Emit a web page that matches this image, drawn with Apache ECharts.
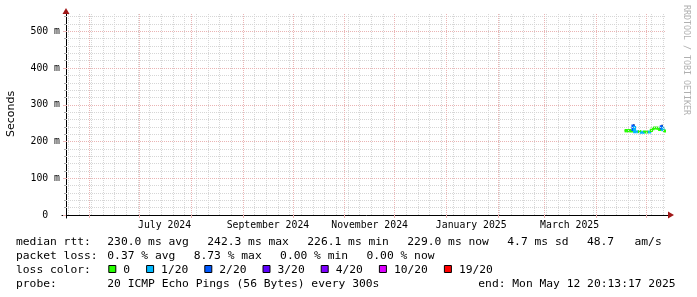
<!DOCTYPE html>
<html>
<head>
<meta charset="utf-8">
<script src="https://cdn.jsdelivr.net/npm/echarts@6/dist/echarts.min.js"></script>
<style>
html,body{margin:0;padding:0;background:#fff;}
#c{width:697px;height:297px;}
</style>
</head>
<body>
<div id="c"></div>
<script>
// ---------------- data ----------------
const endStamp = '2025-05-12T20:13:17Z';
const rangeDays = 360;

// x-axis labels (month label, month it belongs to)
const monthLabelText = ['July 2024', 'September 2024', 'November 2024', 'January 2025', 'March 2025'];
const monthLabelMonth = ['2024-07', '2024-09', '2024-11', '2025-01', '2025-03'];
// major (monthly) vertical grid lines
const monthStarts = ['2024-06', '2024-07', '2024-08', '2024-09', '2024-10', '2024-11', '2024-12',
                     '2025-01', '2025-02', '2025-03', '2025-04', '2025-05'];
// y ticks
const yMax = 550;
const yStep = 100;
const yMinorStep = 20;

// daily samples
const days = ['2025-04-18', '2025-04-19', '2025-04-20', '2025-04-21', '2025-04-22', '2025-04-23',
              '2025-04-24', '2025-04-25', '2025-04-26', '2025-04-27', '2025-04-28', '2025-04-29',
              '2025-04-30', '2025-05-01', '2025-05-02', '2025-05-03', '2025-05-04', '2025-05-05',
              '2025-05-06', '2025-05-07', '2025-05-08', '2025-05-09', '2025-05-10', '2025-05-11',
              '2025-05-12'];
const medianMs = [229, 230, 229, 230, 229, 242, 227, 227, 227, 227, 225, 225,
                  226, 226, 226, 226, 231, 235, 237, 237, 236, 233, 240, 232, 229];
const lossOf20 = [0, 0, 0, 0, 0, 2, 1, 1, 0, 0, 1, 1,
                  0, 0, 1, 1, 0, 0, 0, 0, 0, 0, 2, 1, 0];
const smokeLowMs = [228, 229, 228, 229, 228, 227, 226, 226, 226, 226, 224, 224,
                    225, 225, 225, 225, 230, 234, 236, 236, 235, 232, 230, 231, 228];
const smokeHighMs = [230, 231, 230, 231, 230, 247, 228, 228, 228, 228, 226, 226,
                     227, 227, 227, 227, 232, 236, 238, 238, 237, 234, 246, 233, 230];

// legend
const medianStats = ['230.0 ms avg', '242.3 ms max', '226.1 ms min', '229.0 ms now', '4.7 ms sd', '48.7   am/s'];
const lossStats = ['0.37 % avg', '8.73 % max', '0.00 % min', '0.00 % now'];
const lossLevels = ['0', '1/20', '2/20', '3/20', '4/20', '10/20', '19/20'];
const lossThresholds = [0, 1, 2, 3, 4, 10, 19];
const lossColors = ['#26ff00', '#00b8ff', '#0059ff', '#5e00ff', '#7e00ff', '#dd00ff', '#ff0000'];
const probeText = '20 ICMP Echo Pings (56 Bytes) every 300s';
const endText = 'end: Mon May 12 20:13:17 2025';
const yTitle = 'Seconds';
const watermark = 'RRDTOOL / TOBI OETIKER';

// ---------------- build ----------------
const DAY = 86400000;
const END = Date.parse(endStamp);
const START = END - rangeDays * DAY;
const MONO = '"DejaVu Sans Mono", monospace';
const SANS = '"DejaVu Sans", sans-serif';

function monthTime(s) { return Date.parse(s + '-01T00:00:00Z'); }
const labelTimes = monthLabelMonth.map(m => monthTime(m) + 15 * DAY);
const monthTimes = monthStarts.map(monthTime);

// weekly (Sunday) minor grid
const weekTimes = [];
{
  let t = Date.UTC(2024, 4, 19); // first Sunday in range
  while (t < END) { weekTimes.push(t); t += 7 * DAY; }
}
const minorY = [];
for (let v = yMinorStep; v < yMax; v += yMinorStep) if (v % yStep !== 0) minorY.push(v);
const majorY = [];
for (let v = yStep; v < yMax; v += yStep) majorY.push(v);

function lossColor(l) {
  let c = lossColors[0];
  for (let i = 0; i < lossThresholds.length; i++) if (l >= lossThresholds[i]) c = lossColors[i];
  return c;
}

const dayTimes = days.map(d => Date.parse(d + 'T00:00:00Z'));
const medianData = dayTimes.map((t, i) => [t, medianMs[i], lossOf20[i]]);
const smokeData = dayTimes.map((t, i) => [t, smokeLowMs[i], smokeHighMs[i]]);

const GRAY = '#d6d6d6';
const RED = '#eab4b4';
const ARROW = '#a01818';

// graphic texts
const charW = 6.8;
const legendFont = '11.3px ' + MONO;
const graphic = [];
function txt(x, y, s, extra) {
  graphic.push(Object.assign({
    type: 'text', x: x, y: y, silent: true,
    style: { text: s, font: legendFont, fill: '#000', align: 'left', verticalAlign: 'middle',
             textAlign: 'left', textVerticalAlign: 'middle' }
  }, extra || {}));
}
const rowY = [242, 256, 270, 284];
const col0 = 16, col1 = 107.3, gap = 18.4;
txt(col0, rowY[0], 'median rtt:');
{ let x = col1; medianStats.forEach(s => { txt(x, rowY[0], s); x += s.length * charW + gap; }); }
txt(col0, rowY[1], 'packet loss:');
{ let x = col1; lossStats.forEach(s => { txt(x, rowY[1], s); x += s.length * charW + gap; }); }
txt(col0, rowY[2], 'loss color:');
{
  let x = 108.3;
  lossLevels.forEach((s, i) => {
    graphic.push({ type: 'rect', silent: true, shape: { x: x + 0.5, y: rowY[2] - 4.5, width: 7, height: 7 },
                   style: { fill: lossColors[i], stroke: '#000', lineWidth: 1 } });
    txt(x + 15, rowY[2], s);
    x += 15 + s.length * charW + 16;
  });
}
txt(col0, rowY[3], 'probe:');
txt(col1, rowY[3], probeText);
txt(478.3, rowY[3], endText);
graphic.push({
  type: 'text', x: 11, y: 114, rotation: Math.PI / 2, silent: true,
  style: { text: yTitle, font: '11px ' + SANS, fill: '#000', align: 'center', verticalAlign: 'middle',
           textAlign: 'center', textVerticalAlign: 'middle' }
});
graphic.push({
  type: 'text', x: 686, y: 60, rotation: -Math.PI / 2, silent: true,
  style: { text: watermark, font: '8.3px ' + MONO, fill: '#b0b0b0', align: 'center', verticalAlign: 'middle',
           textAlign: 'center', textVerticalAlign: 'middle' }
});

const hiddenAxis = { show: false, type: 'value', min: 0, max: 1 };

const option = {
  animation: false,
  backgroundColor: '#ffffff',
  grid: [
    { left: 66, right: 31, top: 13, bottom: 82 },       // plot
    { left: 62, right: 26, top: 13, bottom: 82 },       // x axis line + arrow
    { left: 66, right: 31, top: 11, bottom: 79 }        // y axis line + arrow
  ],
  xAxis: [
    {
      gridIndex: 0, type: 'value', min: START, max: END,
      axisLine: { show: false },
      splitLine: { show: false },
      axisTick: { show: true, customValues: monthTimes, length: 3, lineStyle: { color: RED } },
      axisLabel: {
        show: true, customValues: labelTimes, margin: 5,
        fontFamily: MONO, fontSize: 9.8, color: '#000',
        formatter: v => { const i = labelTimes.indexOf(v); return i >= 0 ? monthLabelText[i] : ''; }
      }
    },
    {
      gridIndex: 1, type: 'value', min: 0, max: 1, position: 'bottom',
      axisLine: { show: true, lineStyle: { color: '#000', width: 1 } },
      axisTick: { show: false }, axisLabel: { show: false }, splitLine: { show: false }
    },
    {
      gridIndex: 1, type: 'value', min: 0, max: 1, position: 'bottom',
      axisLine: { show: true, symbol: ['none', 'triangle'], symbolSize: [7, 6],
                  lineStyle: { color: ARROW, width: 0 } },
      axisTick: { show: false }, axisLabel: { show: false }, splitLine: { show: false }
    },
    Object.assign({ gridIndex: 2 }, hiddenAxis)
  ],
  yAxis: [
    {
      gridIndex: 0, type: 'value', min: 0, max: yMax, interval: yStep,
      axisLine: { show: false },
      splitLine: { show: false },
      axisTick: { show: true, length: 3, lineStyle: { color: RED } },
      minorTick: { show: true, splitNumber: 5, length: 2, lineStyle: { color: '#aaa' } },
      axisLabel: {
        show: true, showMaxLabel: false, margin: 6,
        fontFamily: MONO, fontSize: 9.8, color: '#000',
        formatter: v => (v === 0 ? '0  ' : v + ' m')
      }
    },
    Object.assign({ gridIndex: 1 }, hiddenAxis),
    {
      gridIndex: 2, type: 'value', min: 0, max: 1, position: 'left',
      axisLine: { show: true, lineStyle: { color: '#000', width: 1 } },
      axisTick: { show: false }, axisLabel: { show: false }, splitLine: { show: false }
    },
    {
      gridIndex: 2, type: 'value', min: 0, max: 1, position: 'left',
      axisLine: { show: true, symbol: ['none', 'triangle'], symbolSize: [7, 6],
                  lineStyle: { color: ARROW, width: 0 } },
      axisTick: { show: false }, axisLabel: { show: false }, splitLine: { show: false }
    }
  ],
  graphic: graphic,
  series: [
    {
      name: 'minor grid', type: 'line', xAxisIndex: 0, yAxisIndex: 0, data: [], silent: true, z: 1,
      markLine: {
        silent: true, symbol: ['none', 'none'], label: { show: false }, animation: false,
        lineStyle: { color: GRAY, width: 1, type: [1, 1] },
        emphasis: { disabled: true },
        data: weekTimes.map(t => ({ xAxis: t })).concat(minorY.map(v => ({ yAxis: v })))
      }
    },
    {
      name: 'major grid', type: 'line', xAxisIndex: 0, yAxisIndex: 0, data: [], silent: true, z: 2,
      markLine: {
        silent: true, symbol: ['none', 'none'], label: { show: false }, animation: false,
        lineStyle: { color: RED, width: 1, type: [1, 1] },
        emphasis: { disabled: true },
        data: monthTimes.map(t => ({ xAxis: t })).concat(majorY.map(v => ({ yAxis: v })))
      }
    },
    {
      name: 'smoke', type: 'custom', xAxisIndex: 0, yAxisIndex: 0, z: 3, silent: true, clip: true,
      data: smokeData,
      renderItem: function (params, api) {
        const t = api.value(0);
        const t2 = Math.min(t + DAY, END);
        const a = api.coord([t, api.value(2)]);
        const b = api.coord([t2, api.value(1)]);
        return { type: 'rect', shape: { x: a[0], y: a[1], width: b[0] - a[0], height: b[1] - a[1] },
                 style: { fill: '#222233' } };
      }
    },
    {
      name: 'median', type: 'custom', xAxisIndex: 0, yAxisIndex: 0, z: 4, silent: true, clip: true,
      data: medianData,
      renderItem: function (params, api) {
        const i = params.dataIndex;
        const t = api.value(0), v = api.value(1), l = api.value(2);
        const t2 = Math.min(t + DAY, END);
        const vPrev = i > 0 ? medianData[i - 1][1] : v;
        const a = api.coord([t, vPrev]), b = api.coord([t, v]), c = api.coord([t2, v]);
        return { type: 'polyline', shape: { points: [a, b, c] },
                 style: { stroke: lossColor(l), lineWidth: 3, fill: null } };
      }
    }
  ]
};

const chart = echarts.init(document.getElementById('c'), null, { renderer: 'canvas' });
chart.setOption(option);
</script>
</body>
</html>
